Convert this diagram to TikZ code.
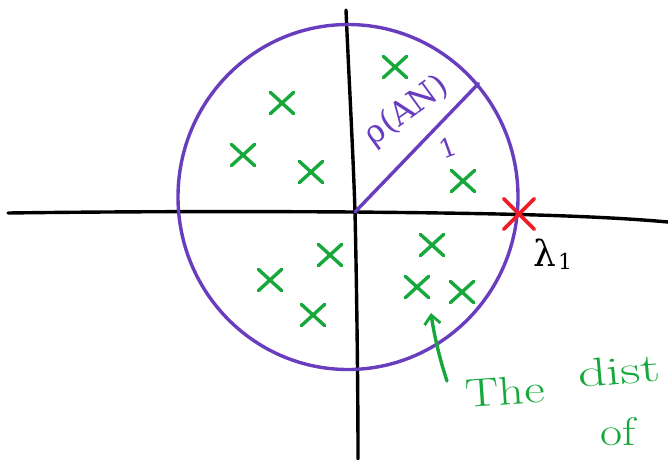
\documentclass[tikz,border=0pt]{standalone}
\usepackage{fontspec}
\newfontfamily\greekfont{DejaVu Serif}
\usetikzlibrary{shapes.misc,shapes.geometric,arrows.meta}
\definecolor{penpurple}{RGB}{104,62,190}
\definecolor{pengreen}{RGB}{22,168,58}
\definecolor{penred}{RGB}{238,30,40}
\tikzset{
  axisline/.style={line width=3.4pt, black, line cap=round},
  gx/.style={cross out, draw=pengreen, line width=3.4pt, minimum width=20pt, minimum height=18pt, inner sep=0pt, line cap=round},
  rx/.style={cross out, draw=penred, line width=3.6pt, minimum size=27pt, inner sep=0pt, line cap=round},
  penp/.style={line width=3.4pt, penpurple, line cap=round},
  handtext/.style={inner sep=0pt},
}
\begin{document}
\begin{tikzpicture}[x=1pt,y=-1pt]
\useasboundingbox (0,0) rectangle (668,459);
\clip (0,0) rectangle (668,459);
% axes
\coordinate (O) at (355,212);
\coordinate (xl) at (8,213);
\coordinate (xr) at (668,222);
\coordinate (yt) at (346,10);
\coordinate (yb) at (358,459);
\draw[axisline] (xl) .. controls (80,212) and (200,211) .. (O) .. controls (450,213) and (580,214) .. (xr);
\draw[axisline] (yt) .. controls (349,80) and (353,150) .. (O) .. controls (357,300) and (358,400) .. (yb);
% circle
\node[ellipse, draw=penpurple, line width=3.4pt, minimum width=340pt, minimum height=345pt, inner sep=0pt] (circ) at (348,197) {};
\draw[penp] (O) -- (circ.41);
\node[handtext, penpurple, rotate=36, font=\greekfont\fontsize{32}{34}\selectfont] (rho) at (407,111) {ρ(AN)};
\node[handtext, penpurple, rotate=20, font=\greekfont\fontsize{26}{28}\selectfont] (one) at (448,148) {1};
% green eigenvalues
\node[gx] (g1) at (395,67) {};
\node[gx] (g2) at (282,103) {};
\node[gx] (g3) at (243,155) {};
\node[gx] (g4) at (311,172) {};
\node[gx] (g5) at (463,181) {};
\node[gx] (g6) at (432,245) {};
\node[gx] (g7) at (330,255) {};
\node[gx] (g8) at (270,280) {};
\node[gx] (g9) at (417,287) {};
\node[gx] (g10) at (462,292) {};
\node[gx] (g11) at (313,315) {};
% red lambda_1
\node[rx] (lam) at (519,214) {};
\node[handtext, black, font=\greekfont\fontsize{36}{38}\selectfont, anchor=base west] (lamlab) at (533,266) {λ\kern2pt\raisebox{-3pt}{\fontsize{22}{24}\selectfont 1}};
% arrow and text
\coordinate (ats) at (447,381);
\coordinate (ate) at (431,313);
\draw[line width=3.4pt, pengreen, line cap=round, -{Straight Barb[length=9pt,width=16pt,line width=2.8pt]}] (ats) .. controls (440,360) and (434,335) .. (ate);
\node[handtext, pengreen, font=\fontsize{40}{42}\selectfont, anchor=base west, rotate=4, xscale=1.25] (the) at (466,408) {The};
\node[handtext, pengreen, font=\fontsize{40}{42}\selectfont, anchor=base west, rotate=5, xscale=1.4] (dist) at (579,388) {dist};
\node[handtext, pengreen, font=\fontsize{40}{42}\selectfont, xscale=1.2] (of) at (618,432) {of};
\end{tikzpicture}
\end{document}
